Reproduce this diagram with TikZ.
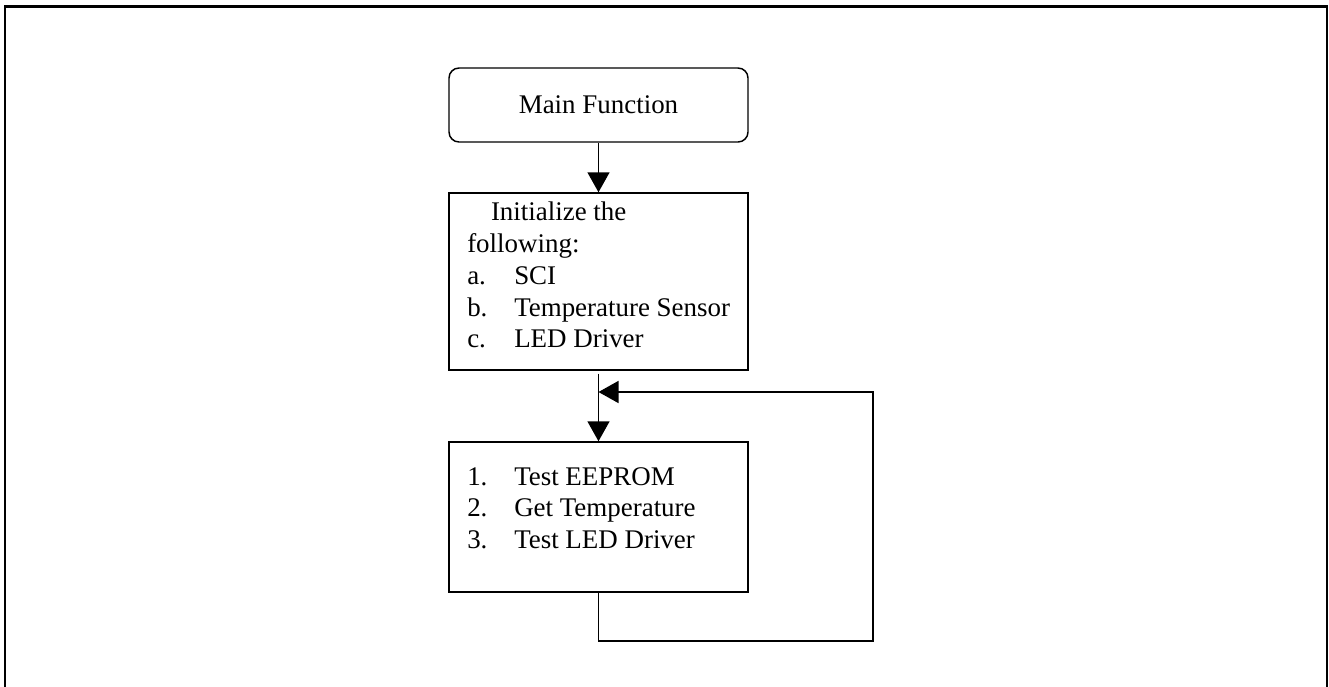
\documentclass[tikz,border=0pt]{standalone}
\usepackage{fontspec}
\setmainfont{Liberation Serif}
\usepackage{array}
\usetikzlibrary{arrows.meta,positioning}

\begin{document}
\begin{tikzpicture}[
  x=0.75pt, y=-0.75pt,
  box/.style={rectangle, draw, line width=1.1pt, minimum width=224.25pt,
              minimum height=#1, inner sep=0pt},
  txt/.style={inner sep=0pt, anchor=base west,
              font=\fontsize{20.2}{23.85}\selectfont},
  >={Triangle[length=15pt, width=16.5pt]},
  arr/.style={->, line width=1.1pt}
]
  \useasboundingbox (0,0) rectangle (1329,686);

  % Outer frame
  \draw[line width=1.9pt] (5,690) -- (5,6.5) -- (1327,6.5) -- (1327,690);

  % Boxes
  \node[box=55.5pt, rounded corners=7.5pt,
        font=\fontsize{20.2}{23.4}\selectfont] (main) at (598.5,105) {Main Function};
  \node[box=132.75pt] (init) at (598.5,281.5) {};
  \node[box=112.5pt] (test) at (598.5,517) {};

  % Box texts
  \node[txt] (initTxt) at (467,220.7) {%
    \begin{tabular}[t]{@{}p{35.25pt}@{}l@{}}
      \multicolumn{2}{@{}l@{}}{\hspace{17.8pt}Initialize the}\\
      \multicolumn{2}{@{}l@{}}{following:}\\
      a. & SCI\\
      b. & Temperature Sensor\\
      c. & LED Driver
    \end{tabular}};
  \node[txt] (testTxt) at (467,485) {%
    \begin{tabular}[t]{@{}p{35.25pt}@{}l@{}}
      1. & Test EEPROM\\
      2. & Get Temperature\\
      3. & Test LED Driver
    \end{tabular}};

  % Flow arrows
  \draw[arr] (main) -- (init);
  \draw[arr, shorten <=2.25pt] (init) -- (test);

  % Loop back
  \coordinate (loopBR) at (873,641);
  \coordinate (loopIn) at (598.5,392);
  \draw[arr] (test.south) |- (loopBR) |- (loopIn);
\end{tikzpicture}
\end{document}
